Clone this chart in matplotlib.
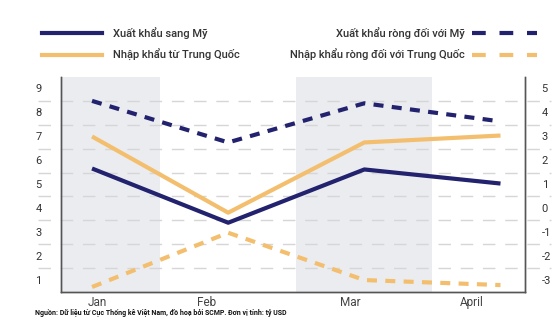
import matplotlib
matplotlib.use("Agg")
import matplotlib.pyplot as plt
import matplotlib.transforms as mtransforms
from matplotlib.lines import Line2D

plt.rcParams["font.family"] = ["Roboto", "DejaVu Sans"]

# ---- data --------------------------------------------------------------
months = ["Jan", "Feb", "Mar", "April"]
month_pos = [0, 1, 2, 3]
month_label_pos = [0.04, 0.84, 1.90, 2.79]
shaded_months = [0, 2]

export_us = [6.17, 3.90, 6.13, 5.54]          # left axis
import_cn = [7.51, 4.32, 7.26, 7.55]          # left axis
net_export_us = [5.00, 3.26, 4.90, 4.14]      # right axis
net_import_cn = [-2.79, -0.52, -2.50, -2.71]  # right axis

left_ticks = [1, 2, 3, 4, 5, 6, 7, 8, 9]
right_ticks = [-3, -2, -1, 0, 1, 2, 3, 4, 5]

labels = ["Xuất khẩu sang Mỹ", "Nhập khẩu từ Trung Quốc",
          "Xuất khẩu ròng đối với Mỹ", "Nhập khẩu ròng đối với Trung Quốc"]
source = ("Nguồn: Dữ liệu từ Cục Thống kê Việt Nam, đồ hoạ bởi SCMP. "
          "Đơn vị tính: tỷ USD")

NAVY = "#22226e"
ORANGE = "#f3bf6e"
SHADE = "#ebecf0"
GRID = "#d6d6d6"
TXT = "#333333"

W, H = 560, 323
fig = plt.figure(figsize=(W / 100, H / 100), dpi=100)
ax = fig.add_axes([61 / W, 1 - 292 / H, (525 - 61) / W, (292 - 77) / H])
ax2 = ax.twinx()

ax.set_xlim(-0.228, 3.18)
ax.set_ylim(1, 10)
ax2.set_ylim(-3, 6)

# month bands
for m in shaded_months:
    ax.axvspan(month_pos[m] - 0.5, month_pos[m] + 0.5, color=SHADE, lw=0, zorder=0)

# dashed grid, running out under the tick labels on both sides
blend = mtransforms.blended_transform_factory(ax.transAxes, ax.transData)
for v in left_ticks[1:]:
    ax.plot([-0.05, 1.055], [v, v], transform=blend, color=GRID, lw=1.0,
            dashes=(9, 7), clip_on=False, zorder=1)

lw = 3.0
ax.plot(month_pos, export_us, color=NAVY, lw=lw, zorder=3, solid_capstyle="butt")
ax.plot(month_pos, import_cn, color=ORANGE, lw=lw, zorder=3, solid_capstyle="butt")
ax2.plot(month_pos, net_export_us, color=NAVY, lw=lw, dashes=(2.4, 2.0),
         dash_capstyle="butt", zorder=3)
ax2.plot(month_pos, net_import_cn, color=ORANGE, lw=lw, dashes=(2.4, 2.0),
         dash_capstyle="butt", zorder=3)

# axes frame
for a in (ax, ax2):
    a.spines["top"].set_visible(False)
    for s in ("left", "right", "bottom"):
        a.spines[s].set_color("#555555")
        a.spines[s].set_linewidth(1.0)

# ticks: labels sit above their grid line
ax.set_yticks(left_ticks)
ax.set_yticklabels([str(t) for t in left_ticks])
ax.tick_params(axis="y", length=0, pad=14, labelsize=8, labelcolor=TXT)
ax2.set_yticks(right_ticks)
ax2.set_yticklabels([str(t) for t in right_ticks])
ax2.tick_params(axis="y", length=0, pad=12, labelsize=8, labelcolor=TXT)
up = mtransforms.ScaledTranslation(0, 9 / 72, fig.dpi_scale_trans)
for lbl in ax.get_yticklabels() + ax2.get_yticklabels():
    lbl.set_transform(lbl.get_transform() + up)

ax.set_xticks(month_label_pos)
ax.set_xticklabels(months)
ax.tick_params(axis="x", length=0, pad=3, labelsize=8.5, labelcolor="#444444")

# legend drawn by hand, two columns
def fy(y):
    return 1 - y / H

def fx(x):
    return x / W

for y, c, t in [(33, NAVY, labels[0]), (55, ORANGE, labels[1])]:
    fig.add_artist(Line2D([fx(42), fx(102)], [fy(y), fy(y)], color=c, lw=3.0))
    fig.text(fx(113), fy(y), t, ha="left", va="center", fontsize=8,
             fontweight="medium", color=TXT)
for y, c, t in [(33, NAVY, labels[2]), (55, ORANGE, labels[3])]:
    fig.add_artist(Line2D([fx(472), fx(537)], [fy(y), fy(y)], color=c, lw=3.0,
                          dashes=(3.3, 3.3), dash_capstyle="butt"))
    fig.text(fx(465), fy(y), t, ha="right", va="center", fontsize=8,
             fontweight="medium", color=TXT)

fig.text(fx(35), fy(313), source, ha="left", va="center", fontsize=5,
         fontweight="bold", color="#111111")

fig.savefig("out.png", dpi=100)
